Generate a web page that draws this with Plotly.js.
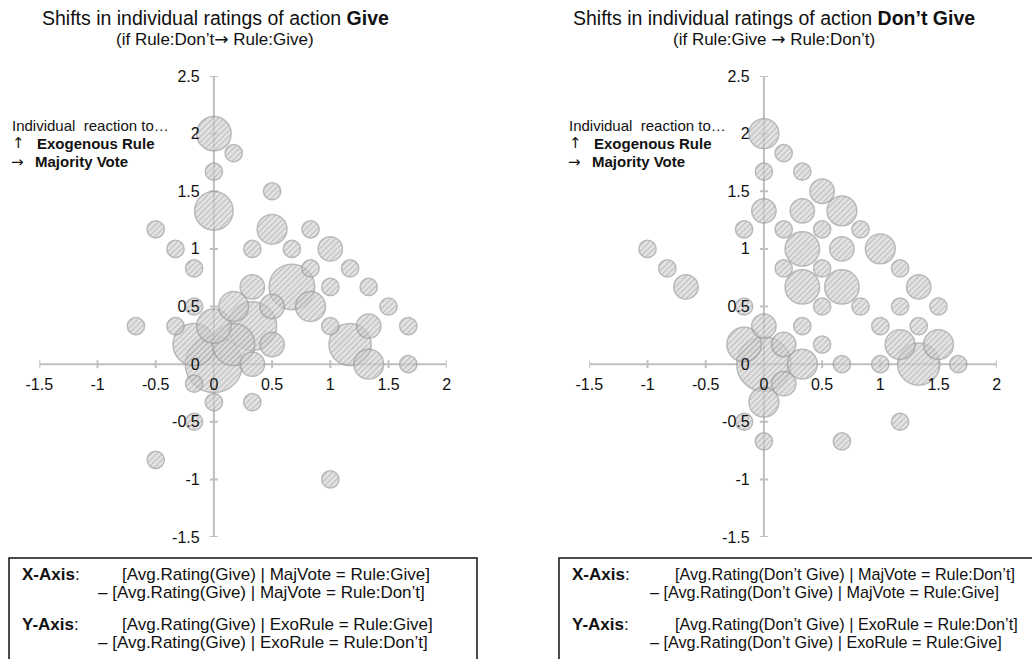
<!DOCTYPE html>
<html><head><meta charset="utf-8">
<script src="https://cdn.plot.ly/plotly-3.0.1.min.js"></script>
<style>html,body{margin:0;padding:0;background:#fff;} #chart{width:1032px;height:659px;}</style>
</head><body><div id="chart"></div>
<script>
// ---- Left chart: shifts in ratings of action "Give" ----
const giveX = [0, 0.17, 0, 0.5, 0, -0.5, 0.5, 0.83, -0.33, 0.33, 0.67, 1, -0.17, 0.83, 1.17, 0.33, 0.67, 1, 1.33, -0.17, 0.17, 0.5, 0.83, 1.5, -0.67, -0.33, 0, 0.33, 1, 1.33, 1.67, -0.17, 0.17, 0.5, 1.17, 0, 0.33, 1.33, 1.67, -0.17, 0, 0.33, -0.17, -0.5, 1];
const giveY = [2, 1.83, 1.67, 1.5, 1.33, 1.17, 1.17, 1.17, 1, 1, 1, 1, 0.83, 0.83, 0.83, 0.67, 0.67, 0.67, 0.67, 0.5, 0.5, 0.5, 0.5, 0.5, 0.33, 0.33, 0.33, 0.33, 0.33, 0.33, 0.33, 0.17, 0.17, 0.17, 0.17, 0, 0, 0, 0, -0.17, -0.33, -0.33, -0.5, -0.83, -1];
const giveN = [4, 1, 1, 1, 5, 1, 3, 1, 1, 1, 1, 2, 1, 1, 1, 2, 7, 1, 1, 1, 3, 2, 3, 1, 1, 1, 4, 8, 1, 2, 1, 6, 6, 2, 6, 11, 2, 3, 1, 1, 1, 1, 1, 1, 1];

// ---- Right chart: shifts in ratings of action "Don't Give" ----
const dontX = [0, 0.17, 0, 0.33, 0.5, 0, 0.33, 0.67, -0.17, 0.17, 0.5, 0.83, -1, 0.33, 0.67, 1, -0.83, 0.17, 0.5, 1.17, -0.67, 0.33, 0.67, 1.33, -0.17, 0.5, 0.83, 1.17, 1.5, 0, 0.33, 1, 1.33, -0.17, 0.17, 0.5, 1.17, 1.5, 0, 0.33, 0.67, 1, 1.33, 1.67, 0.17, 0, -0.17, 1.17, 0, 0.67];
const dontY = [2, 1.83, 1.67, 1.67, 1.5, 1.33, 1.33, 1.33, 1.17, 1.17, 1.17, 1.17, 1, 1, 1, 1, 0.83, 0.83, 0.83, 0.83, 0.67, 0.67, 0.67, 0.67, 0.5, 0.5, 0.5, 0.5, 0.5, 0.33, 0.33, 0.33, 0.33, 0.17, 0.17, 0.17, 0.17, 0.17, 0, 0, 0, 0, 0, 0, -0.17, -0.33, -0.5, -0.5, -0.67, -0.67];
const dontN = [3, 1, 1, 1, 2, 2, 2, 3, 1, 1, 1, 1, 1, 4, 2, 3, 1, 1, 1, 1, 2, 4, 4, 2, 1, 1, 1, 1, 1, 2, 1, 1, 1, 4, 2, 1, 3, 3, 10, 3, 1, 1, 6, 1, 2, 3, 1, 1, 1, 1];

// ---- Tick labels ----
const xTickVals = [-1.5, -1, -0.5, 0, 0.5, 1, 1.5, 2];
const xTickLabels = ['-1.5', '-1', '-0.5', '0', '0.5', '1', '1.5', '2'];
const yTickVals = [-1.5, -1, -0.5, 0, 0.5, 1, 1.5, 2, 2.5];
const yTickLabels = ['-1.5', '-1', '-0.5', '0', '0.5', '1', '1.5', '2', '2.5'];

// ---- Texts ----
const ARW = s => '<span style="font-family:DejaVu Sans">' + s + '</span>';
const titleLeft = 'Shifts in individual ratings of action <b>Give</b>';
const subLeft = '(if Rule:Don’t' + ARW('→') + ' Rule:Give)';
const titleRight = 'Shifts in individual ratings of action <b>Don’t Give</b>';
const subRight = '(if Rule:Give ' + ARW('→') + ' Rule:Don’t)';
const legendLines = ['Individual  reaction to…', '↑', 'Exogenous Rule', '→', 'Majority Vote'];
const boxLeft = ['X-Axis', '[Avg.Rating(Give) | MajVote = Rule:Give]', '– [Avg.Rating(Give) | MajVote = Rule:Don’t]',
                 'Y-Axis', '[Avg.Rating(Give) | ExoRule = Rule:Give]', '– [Avg.Rating(Give) | ExoRule = Rule:Don’t]'];
const boxRight = ['X-Axis', '[Avg.Rating(Don’t Give) | MajVote = Rule:Don’t]', '– [Avg.Rating(Don’t Give) | MajVote = Rule:Give]',
                  'Y-Axis', '[Avg.Rating(Don’t Give) | ExoRule = Rule:Don’t]', '– [Avg.Rating(Don’t Give) | ExoRule = Rule:Give]'];

// ---- Layout geometry ----
const W = 1032, H = 659;
const FONT = 'Liberation Sans, Arial, sans-serif';
const px = v => v / W;
const py = v => 1 - v / H;
const xRange = [-1.5, 2], yRange = [-1.5, 2.5];
const xDom1 = [px(39.3), px(446.7)], xDom2 = [px(589.3), px(996.7)];
const yDom = [py(537), py(76)];
const zeroX = d => d[0] + (0 - xRange[0]) / (xRange[1] - xRange[0]) * (d[1] - d[0]);
const zeroY = yDom[0] + (0 - yRange[0]) / (yRange[1] - yRange[0]) * (yDom[1] - yDom[0]);
const SIZEREF = 2 / (17.2 * 17.2);
const AXC = '#bfbfbf';

function ordered(xs, ys, ns) {
  const idx = ns.map((n, i) => i).sort((a, b) => ns[b] - ns[a]);
  return { x: idx.map(i => xs[i]), y: idx.map(i => ys[i]), n: idx.map(i => ns[i]) };
}
function bubbleTrace(xs, ys, ns, xa, ya) {
  const o = ordered(xs, ys, ns);
  return {
    type: 'scatter', mode: 'markers', x: o.x, y: o.y, xaxis: xa, yaxis: ya,
    cliponaxis: false, hoverinfo: 'skip', showlegend: false,
    marker: { size: o.n, sizemode: 'area', sizeref: SIZEREF, color: '#cfcfcf',
              line: { color: '#9c9c9c', width: 1.5 } }
  };
}
function xAxis(dom) {
  return { domain: dom, range: xRange, anchor: 'free', position: zeroY, showline: false,
    showgrid: false, zeroline: false, tickmode: 'array', tickvals: xTickVals, ticktext: xTickLabels,
    ticks: 'outside', ticklen: 6, tickcolor: 'rgba(0,0,0,0)', layer: 'above traces',
    tickfont: { family: FONT, size: 16, color: '#111' }, fixedrange: true };
}
function yAxis(xdom) {
  return { domain: yDom, range: yRange, anchor: 'free', position: zeroX(xdom), showline: false,
    showgrid: false, zeroline: false, tickmode: 'array', tickvals: yTickVals, ticktext: yTickLabels,
    ticks: 'outside', ticklen: 11, tickcolor: 'rgba(0,0,0,0)', layer: 'above traces',
    tickfont: { family: FONT, size: 16, color: '#111' }, fixedrange: true };
}
function axisShapes(xr, yr) {
  const s = [];
  const ln = { color: AXC, width: 2 };
  s.push({ type: 'line', xref: xr, yref: yr, x0: xRange[0], x1: xRange[1], y0: 0, y1: 0, line: ln, layer: 'below' });
  s.push({ type: 'line', xref: xr, yref: yr, x0: 0, x1: 0, y0: yRange[0], y1: yRange[1], line: ln, layer: 'below' });
  xTickVals.forEach(t => s.push({ type: 'line', xref: xr, yref: yr, x0: t, x1: t, ysizemode: 'pixel', yanchor: 0, y0: -4, y1: 4, line: ln, layer: 'below' }));
  yTickVals.forEach(t => s.push({ type: 'line', xref: xr, yref: yr, y0: t, y1: t, xsizemode: 'pixel', xanchor: 0, x0: -4, x1: 4, line: ln, layer: 'below' }));
  return s;
}
function ann(text, x, y, size, opts) {
  return Object.assign({ text: text, xref: 'paper', yref: 'paper', x: px(x), y: py(y), showarrow: false,
    xanchor: 'left', yanchor: 'middle', align: 'left', font: { family: FONT, size: size, color: '#111' } }, opts || {});
}
function panelTexts(off, title, sub, box, boxX, boxTextX, boxDashX, boxSize) {
  const a = [];
  const cx = off === 0 ? 215 : 774;
  a.push(ann(title, cx, 18, 19.5, { xanchor: 'center' }));
  a.push(ann(sub, cx, 39, 17, { xanchor: 'center' }));
  const lx = off === 0 ? 10 : 567;
  a.push(ann(legendLines[0], lx, 125, 15));
  a.push(ann(legendLines[1], lx, 143, 16, { font: { family: 'DejaVu Sans', size: 15, color: '#111' } }));
  a.push(ann('<b>' + legendLines[2] + '</b>', lx + 25, 143, 15));
  a.push(ann(legendLines[3], lx - 1, 162, 16, { font: { family: 'DejaVu Sans', size: 15, color: '#111' } }));
  a.push(ann('<b>' + legendLines[4] + '</b>', lx + 23, 162, 15));
  a.push(ann('<b>' + box[0] + '</b>:', boxX, 574, 17));
  a.push(ann(box[1], boxTextX, 574, boxSize));
  a.push(ann(box[2], boxDashX, 592, boxSize));
  a.push(ann('<b>' + box[3] + '</b>:', boxX, 624, 17));
  a.push(ann(box[4], boxTextX, 624, boxSize));
  a.push(ann(box[5], boxDashX, 642, boxSize));
  return a;
}

const data = [
  bubbleTrace(giveX, giveY, giveN, 'x', 'y'),
  bubbleTrace(dontX, dontY, dontN, 'x2', 'y2')
];
const layout = {
  width: W, height: H, margin: { l: 0, r: 0, t: 0, b: 0 }, paper_bgcolor: '#fff', plot_bgcolor: 'rgba(0,0,0,0)',
  showlegend: false, font: { family: FONT },
  xaxis: xAxis(xDom1), yaxis: yAxis(xDom1),
  xaxis2: xAxis(xDom2), yaxis2: yAxis(xDom2),
  shapes: axisShapes('x', 'y').concat(axisShapes('x2', 'y2')).concat([
    { type: 'rect', xref: 'paper', yref: 'paper', x0: px(9), x1: px(477), y0: py(680), y1: py(558), line: { color: '#111', width: 1.5 }, fillcolor: 'rgba(0,0,0,0)' },
    { type: 'rect', xref: 'paper', yref: 'paper', x0: px(559), x1: px(1045), y0: py(680), y1: py(558), line: { color: '#111', width: 1.5 }, fillcolor: 'rgba(0,0,0,0)' }
  ]),
  annotations: panelTexts(0, titleLeft, subLeft, boxLeft, 20, 120, 96, 17)
    .concat(panelTexts(1, titleRight, subRight, boxRight, 570, 673, 648, 16.2))
};

Plotly.newPlot('chart', data, layout, { staticPlot: true, displayModeBar: false }).then(() => {
  const NS = 'http://www.w3.org/2000/svg';
  const svg = document.querySelector('#chart .main-svg');
  let defs = svg.querySelector('defs');
  if (!defs) { defs = document.createElementNS(NS, 'defs'); svg.insertBefore(defs, svg.firstChild); }
  const pat = document.createElementNS(NS, 'pattern');
  pat.setAttribute('id', 'diaghatch'); pat.setAttribute('patternUnits', 'userSpaceOnUse');
  pat.setAttribute('width', '4'); pat.setAttribute('height', '4');
  pat.setAttribute('patternTransform', 'rotate(45)');
  const bg = document.createElementNS(NS, 'rect');
  bg.setAttribute('width', '4'); bg.setAttribute('height', '4'); bg.setAttribute('fill', '#d6d6d6');
  const ln = document.createElementNS(NS, 'line');
  ln.setAttribute('x1', '0'); ln.setAttribute('y1', '0'); ln.setAttribute('x2', '0'); ln.setAttribute('y2', '4');
  ln.setAttribute('stroke', '#8f8f8f'); ln.setAttribute('stroke-width', '1.5');
  pat.appendChild(bg); pat.appendChild(ln); defs.appendChild(pat);
  document.querySelectorAll('#chart .scatterlayer .point').forEach(p => { p.style.fill = 'url(#diaghatch)'; });
});
</script></body></html>
